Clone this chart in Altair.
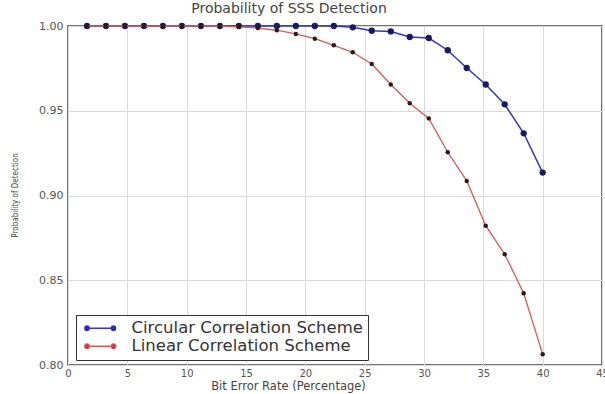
import altair as alt
import pandas as pd

ber = [1.6, 3.2, 4.8, 6.4, 8.0, 9.6, 11.2, 12.8, 14.4, 16.0, 17.6, 19.2, 20.8,
       22.4, 24.0, 25.6, 27.2, 28.8, 30.4, 32.0, 33.6, 35.2, 36.8, 38.4, 40.0]
circular = [1.0, 1.0, 1.0, 1.0, 1.0, 1.0, 1.0, 1.0, 1.0, 1.0, 1.0, 1.0, 1.0,
            1.0, 0.9992, 0.9972, 0.9968, 0.9935, 0.9929, 0.9857, 0.9752,
            0.9655, 0.9538, 0.9367, 0.9135]
linear = [1.0, 1.0, 1.0, 1.0, 1.0, 1.0, 1.0, 1.0, 0.9995, 0.9988, 0.9975,
          0.9953, 0.9925, 0.9886, 0.9845, 0.9776, 0.9655, 0.9544, 0.9455,
          0.9255, 0.9086, 0.8822, 0.8653, 0.8423, 0.8063]
series_names = ["Circular Correlation Scheme", "Linear Correlation Scheme"]
x_ticks = [0, 5, 10, 15, 20, 25, 30, 35, 40, 45]
y_ticks = [0.80, 0.85, 0.90, 0.95, 1.00]

rows = []
for x, c in zip(ber, circular):
    rows.append({"ber": x, "p": c, "series": series_names[0]})
for x, l in zip(ber, linear):
    rows.append({"ber": x, "p": l, "series": series_names[1]})
df = pd.DataFrame(rows)

FONT = "DejaVu Sans"
BLUE = "#3535b5"
RED = "#d65858"

xenc = alt.X("ber:Q", scale=alt.Scale(domain=[0, 45], nice=False),
             axis=alt.Axis(values=x_ticks, title="Bit Error Rate (Percentage)",
                           grid=True, gridColor="#dadada", domain=False, ticks=False,
                           labelFontSize=10, labelColor="#555", labelPadding=3,
                           titleFontSize=11.5, titleColor="#444", titleFontWeight="normal",
                           titleX=220, titlePadding=2, labelFlush=False))
yenc = alt.Y("p:Q", scale=alt.Scale(domain=[0.80, 1.00], nice=False, zero=False),
             axis=alt.Axis(values=y_ticks, format=".2f", title="Probability of Detection",
                           grid=True, gridColor="#dadada", domain=False, ticks=False,
                           labelFontSize=11, labelColor="#555", labelPadding=5,
                           titleFontSize=8, titleColor="#444", titleFontWeight="normal",
                           titleFont="'DejaVu Sans Condensed', 'DejaVu Sans', sans-serif",
                           titleX=-53, titleY=169, titleAngle=270,
                           titleAlign="center", titleBaseline="middle", labelFlush=False))

legend_path = ("M-3,0L3,0"
               "M-3.1,0a0.45,0.45 0 1,0 0.9,0a0.45,0.45 0 1,0 -0.9,0"
               "M2.2,0a0.45,0.45 0 1,0 0.9,0a0.45,0.45 0 1,0 -0.9,0")

stroke_enc = alt.Stroke("series:N",
                        scale=alt.Scale(domain=series_names, range=[BLUE, RED]),
                        legend=alt.Legend(title=None, orient="none", legendX=8, legendY=289,
                                          symbolType=legend_path, symbolSize=100,
                                          symbolStrokeWidth=1.3, symbolFillColor="#1c1c40",
                                          symbolOffset=11, labelOffset=23,
                                          labelFontSize=16.5, labelColor="#333", labelFont=FONT,
                                          strokeColor="#333", fillColor="white",
                                          padding=5, rowPadding=1, cornerRadius=0,
                                          labelLimit=400))

base = alt.Chart(df)

c_line = base.transform_filter(alt.datum.series == series_names[0]).mark_line(
    strokeWidth=1.5, clip=False).encode(x=xenc, y=yenc, stroke=stroke_enc)
c_pts = base.transform_filter(alt.datum.series == series_names[0]).mark_circle(
    size=40, color="#1a1a60", opacity=1, clip=False).encode(x=xenc, y=yenc)
l_line = base.transform_filter(alt.datum.series == series_names[1]).mark_line(
    strokeWidth=1.3, clip=False).encode(x=xenc, y=yenc, stroke=stroke_enc)
l_pts = base.transform_filter(alt.datum.series == series_names[1]).mark_circle(
    size=20, color="#2a1a1a", opacity=1, clip=False).encode(x=xenc, y=yenc)

chart = alt.layer(c_line, c_pts, l_line, l_pts).properties(
    width=534, height=339,
    title=alt.TitleParams("Probability of SSS Detection", anchor="middle", dx=-46,
                          offset=4, fontSize=14, font=FONT, color="#444",
                          fontWeight="normal"),
    autosize=alt.AutoSizeParams(type="none"),
    padding={"left": 68, "top": 26, "right": 3, "bottom": 29},
).configure(font=FONT).configure_view(stroke="#444", strokeWidth=1.5)

chart.save("out.html", embed_options={"renderer": "svg", "actions": False})
